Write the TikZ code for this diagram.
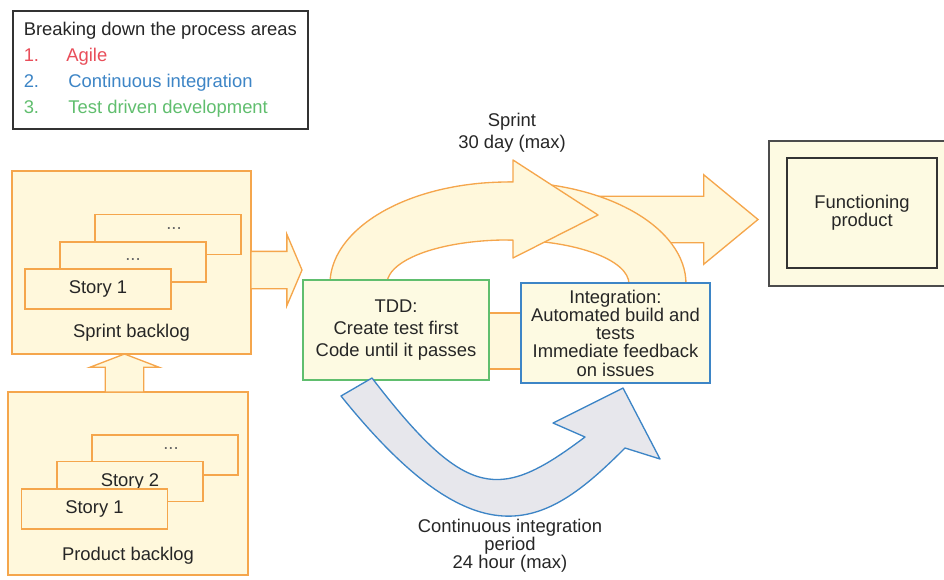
\documentclass[tikz,border=0pt]{standalone}
\usepackage{fontspec}
\setmainfont{Liberation Sans}
\usetikzlibrary{positioning, shapes.arrows}

\definecolor{creamfill}{RGB}{255,248,220}
\definecolor{stagefill}{RGB}{253,250,226}
\definecolor{agileorange}{RGB}{245,166,76}
\definecolor{agilered}{RGB}{233,78,90}
\definecolor{ciblue}{RGB}{61,133,198}
\definecolor{tddgreen}{RGB}{96,190,110}
\definecolor{cigray}{RGB}{231,231,236}
\definecolor{inkgray}{RGB}{38,38,38}

\begin{document}
\begin{tikzpicture}[
	x=0.75pt, y=0.75pt,
	every node/.style={font=\fontsize{13.8}{16.5}\selectfont, text=inkgray, align=center},
	backlog/.style={rectangle, draw=agileorange, fill=creamfill, line width=1pt, minimum width=179.25pt, minimum height=137.25pt},
	card/.style={rectangle, draw=agileorange, fill=creamfill, line width=1pt, minimum width=109.5pt, minimum height=30pt},
	ellipsistext/.style={text=inkgray!70, inner sep=0pt},
	tddbox/.style={rectangle, draw=tddgreen, fill=stagefill, line width=1pt, minimum width=139.5pt, minimum height=75pt},
	cibox/.style={rectangle, draw=ciblue, fill=stagefill, line width=1pt, minimum width=141.75pt, minimum height=75pt, font=\fontsize{13.8}{13.7}\selectfont},
	blockarrow/.style={single arrow, draw=agileorange, fill=creamfill, line width=1pt, inner xsep=0pt, outer sep=0pt, single arrow head indent=0pt, anchor=tail},
	sprintband/.style={draw=agileorange, fill=creamfill, line width=1pt, line join=round},
	ciband/.style={draw=ciblue, fill=cigray, line width=1pt, line join=round},
	legendbox/.style={rectangle, draw=black!80, line width=1.2pt, fill=white, align=left, minimum width=221.25pt, minimum height=88.5pt, font=\fontsize{13.8}{19.3}\selectfont}
	]
	\useasboundingbox (0,0) rectangle (944,579);
	
	% --- SPRINT LOOP (behind the stage boxes) ---
	\filldraw[sprintband] (480,210) rectangle (530,266);
	\node[blockarrow, minimum height=133.5pt, inner ysep=16.9pt, single arrow head extend=16.1pt, single arrow tip angle=79] (toproduct) at (580,359.5) {};
	\filldraw[sprintband] (686,295) arc[start angle=0, end angle=90, x radius=178, y radius=102] -- (508,339) arc[start angle=90, end angle=0, x radius=121, y radius=44] -- cycle;
	\filldraw[sprintband] (330,295) arc[start angle=180, end angle=88.4, x radius=178, y radius=102] -- (513,419) -- (598,364) -- (513,321) -- (513,339) arc[start angle=87.6, end angle=180, x radius=121, y radius=44] -- cycle;
	
	% --- STAGES ---
	\node[tddbox] (tdd) at (396,249) {TDD:\\Create test first\\Code until it passes};
	\node[cibox] (integ) at (615.5,246) {Integration:\\Automated build and\\tests\\Immediate feedback\\on issues};
	
	\filldraw[ciband] (341,183) .. controls (481,9) and (548,54) .. (625,131) -- (660,120) -- (623,191) -- (553,156) -- (585,142) .. controls (500,78) and (467,77.5) .. (372,201) -- cycle;
	
	\node (sprint) at (512,446) {Sprint\\30 day (max)};
	\node[font=\fontsize{13.8}{13.5}\selectfont] (ciperiod) at (510,33) {Continuous integration\\period\\24 hour (max)};
	
	% --- BACKLOGS ---
	\node[backlog] (sb) at (131.5,316.5) {};
	\node[card] (sb3) at (168,344.5) {};
	\node[ellipsistext] at (174,350) {...};
	\node[card] (sb2) at (133,317) {};
	\node[ellipsistext] at (133,319) {...};
	\node[card] (sb1) at (98,290) {Story 1};
	\node at ([yshift=16.5pt]sb.south) {Sprint backlog};
	
	\node[backlog, minimum width=180pt] (pb) at (128,95.5) {};
	\node[card] (pb3) at (165,124) {};
	\node[ellipsistext] at (171,130) {...};
	\node[card] (pb2) at (130,97.5) {\raisebox{2.5pt}{Story 2}};
	\node[card] (pb1) at (94.5,70) {Story 1};
	\node at ([yshift=15pt]pb.south) {Product backlog};
	
	\node[blockarrow, rotate=90, minimum height=28.5pt, inner ysep=13.9pt, single arrow head extend=11.6pt, single arrow tip angle=138] (refine) at (124.5,187) {};
	\node[blockarrow, minimum height=38.25pt, inner ysep=13.5pt, single arrow head extend=12.75pt, single arrow tip angle=134] (tosprint) at (251,309) {};
	
	% --- LEGEND ---
	\node[legendbox, anchor=north west] (legend) at (12,569) {Breaking down the process areas\\
		\textcolor{agilered}{\makebox[32pt][l]{1.}Agile}\\
		\textcolor{ciblue}{\makebox[33.5pt][l]{2.}Continuous integration}\\
		\textcolor{tddgreen}{\makebox[33.5pt][l]{3.}Test driven development}};
	
	% --- RESULT ---
	\node[rectangle, draw=black!70, line width=1.3pt, fill=stagefill, minimum width=135.75pt, minimum height=108.75pt] (fpframe) at (859.5,365.5) {};
	\node[rectangle, draw=black!80, line width=0.9pt, minimum width=112.5pt, minimum height=82.5pt, font=\fontsize{13.8}{13.5}\selectfont] (product) at (862,366) {Functioning\\product};
	
\end{tikzpicture}
\end{document}
